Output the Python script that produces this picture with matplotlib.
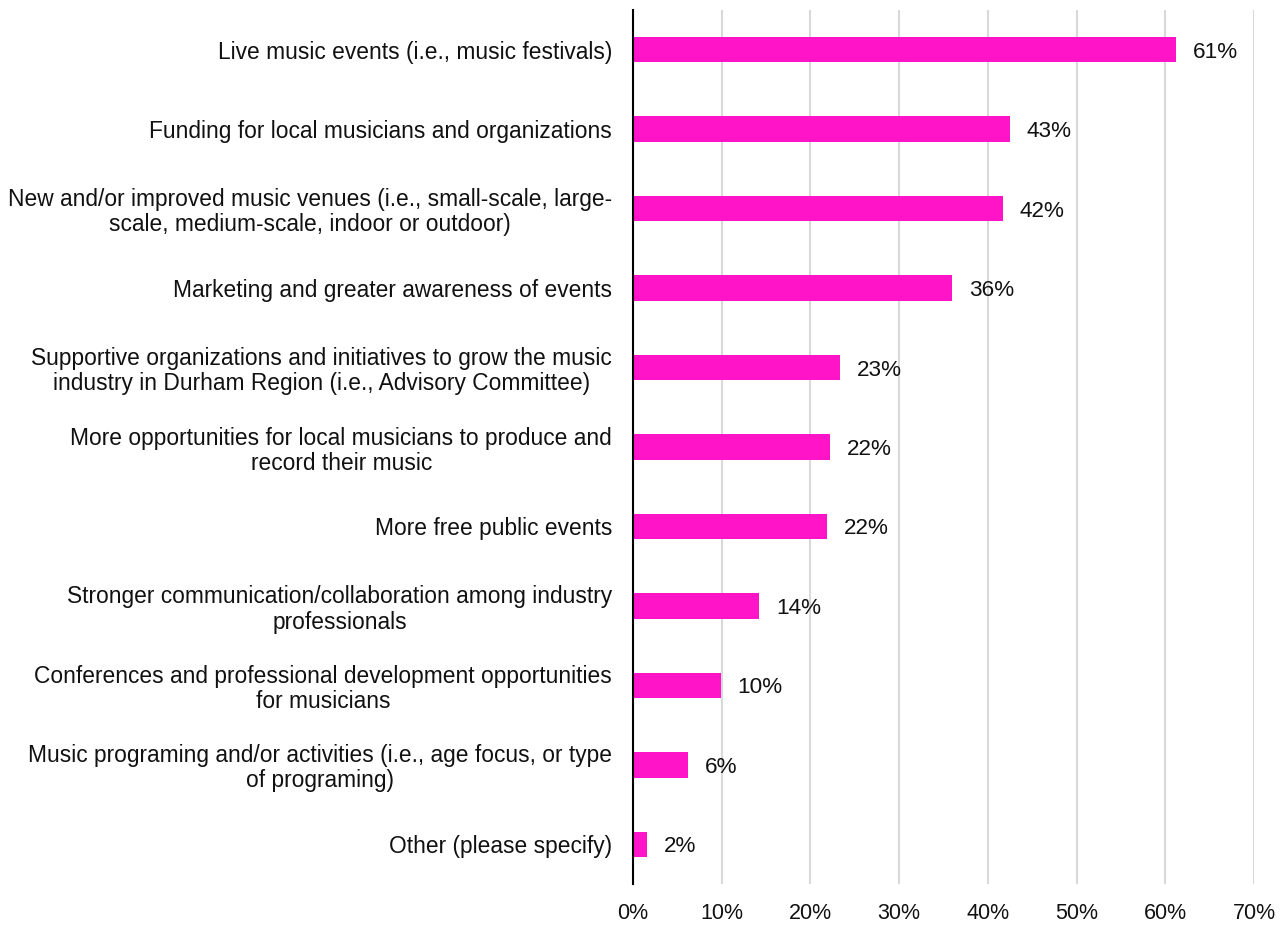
import matplotlib
matplotlib.use("Agg")
import matplotlib.pyplot as plt

plt.rcParams['font.family'] = ["Liberation Sans", "DejaVu Sans"]

categories = [
    "Live music events (i.e., music festivals)",
    "Funding for local musicians and organizations",
    "New and/or improved music venues (i.e., small-scale, large-\nscale, medium-scale, indoor or outdoor)",
    "Marketing and greater awareness of events",
    "Supportive organizations and initiatives to grow the music\nindustry in Durham Region (i.e., Advisory Committee)",
    "More opportunities for local musicians to produce and\nrecord their music",
    "More free public events",
    "Stronger communication/collaboration among industry\nprofessionals",
    "Conferences and professional development opportunities\nfor musicians",
    "Music programing and/or activities (i.e., age focus, or type\nof programing)",
    "Other (please specify)",
]
values = [61.2, 42.5, 41.7, 36.0, 23.3, 22.2, 21.9, 14.2, 9.9, 6.2, 1.6]
value_labels = ["61%", "43%", "42%", "36%", "23%", "22%", "22%", "14%", "10%", "6%", "2%"]
xticks = [0, 10, 20, 30, 40, 50, 60, 70]

fig = plt.figure(figsize=(12.87, 9.26), dpi=100)
ax = fig.add_axes([633/1287, 1-884/926, (1254-633)/1287, (884-10)/926])

y = list(range(len(categories)))
ax.barh(y, values, height=0.32, color="#FF14C8", zorder=3)
for yi, v, lab in zip(y, values, value_labels):
    ax.text(v + 1.9, yi, lab, va="center_baseline", ha="left", fontsize=16.2, color="#111111")

ax.set_ylim(len(categories) - 0.5, -0.5)
ax.set_xlim(0, 70)
ax.set_yticks(y)
ax.set_yticklabels(categories, fontsize=16.4, ha="right", multialignment="center",
                   color="#111111", linespacing=1.12)
ax.set_xticks(xticks)
ax.set_xticklabels([f"{t}%" for t in xticks], fontsize=15.5, color="#111111")
ax.tick_params(axis="both", length=0)
ax.tick_params(axis="y", pad=15)
ax.tick_params(axis="x", pad=14)
ax.grid(axis="x", color="#D9D9D9", linewidth=1.5, zorder=0)
ax.set_axisbelow(True)
for s in ["top", "right", "bottom"]:
    ax.spines[s].set_visible(False)
ax.spines["left"].set_color("black")
ax.spines["left"].set_linewidth(1.5)
ax.spines["left"].set_zorder(4)

fig.savefig("out.png", dpi=100, facecolor="white")
